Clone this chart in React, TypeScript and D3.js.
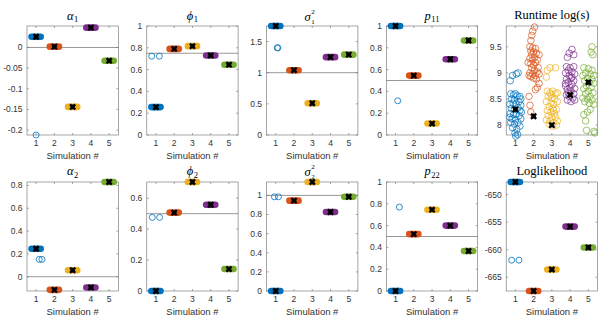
import React from "react";
import * as d3 from "d3";

const COLORS = ["#0072BD", "#D95319", "#EDB120", "#7E2F8E", "#77AC30"];
const simulations = [1, 2, 3, 4, 5];

// estimates per simulation (converged value)
const alpha1Est = [0.026, 0.002, -0.144, 0.048, -0.032];
const phi1Est = [0.256, 0.79, 0.815, 0.73, 0.645];
const sigma1Est = [1.75, 1.04, 0.51, 1.25, 1.29];
const p11Est = [1.0, 0.545, 0.105, 0.695, 0.867];
const runtimeMarker = [8.3, 8.17, 8.0, 8.58, 8.82];
const alpha2Est = [0.245, -0.115, 0.057, -0.094, 0.83];
const phi2Est = [0.0, 0.507, 0.705, 0.558, 0.142];
const sigma2Est = [0.0, 0.945, 1.14, 0.826, 0.986];
const p22Est = [0.0, 0.522, 0.746, 0.6, 0.367];
const loglikEst = [-647.7, -667.5, -663.6, -655.8, -659.6];

// true parameter values
const trueValues = { alpha1: 0, phi1: 0.75, sigma1: 1, p11: 0.5, alpha2: 0, phi2: 0.5, sigma2: 1, p22: 0.5 };

// local optima of simulation 1 (open circles): [sim x, value]
const alpha1Local = [[1.0, -0.212]];
const phi1Local = [[0.77, 0.723], [1.19, 0.723]];
const sigma1Local = [[1.08, 1.4], [1.12, 1.4]];
const p11Local = [[1.12, 0.314]];
const alpha2Local = [[1.17, 0.152], [1.32, 0.152]];
const phi2Local = [[0.8, 0.476], [1.2, 0.476]];
const sigma2Local = [[0.93, 0.985], [1.15, 0.985]];
const p22Local = [[1.21, 0.77]];
const loglikLocal = [[0.8, -661.9], [1.2, -661.9]];

// runtime log(s) per run: [jittered sim x, value]
const runtime1 = [[0.72,8.85],[0.85,8.95],[1.05,8.98],[1.15,9.0],[0.75,8.6],[0.9,8.58],[1.0,8.6],[1.1,8.56],[1.25,8.55],[1.3,8.5],[0.8,8.5],[0.95,8.48],[1.2,8.45],[0.7,8.4],[0.88,8.42],[1.05,8.4],[1.3,8.38],[0.78,8.32],[0.95,8.3],[1.15,8.33],[1.25,8.28],[0.72,8.22],[0.9,8.2],[1.05,8.22],[1.2,8.18],[0.82,8.12],[1.0,8.1],[1.3,8.12],[0.75,8.05],[0.95,8.02],[1.15,8.05],[0.85,7.95],[1.08,7.92],[1.25,7.98],[0.98,7.85],[1.12,7.82],[1.02,7.79],[0.7,8.15],[1.33,8.25]];
const runtime2 = [[2.05,9.88],[1.95,9.8],[1.9,9.72],[1.85,9.62],[1.8,9.5],[1.95,9.48],[2.1,9.47],[1.85,9.42],[2.0,9.4],[2.15,9.38],[1.9,9.35],[2.05,9.3],[1.8,9.28],[1.95,9.25],[2.2,9.25],[2.1,9.2],[1.85,9.18],[2.0,9.15],[2.25,9.1],[1.9,9.1],[2.05,9.05],[2.2,9.02],[1.8,9.0],[1.95,8.98],[2.1,8.95],[2.3,8.98],[1.85,8.93],[2.0,8.9],[2.15,8.88],[1.75,8.95],[2.3,8.8],[2.2,8.72],[2.1,8.68],[1.75,8.55],[1.8,8.38],[1.85,8.25],[2.3,9.35],[1.7,9.2]];
const runtime3 = [[2.75,9.05],[2.9,9.1],[3.2,9.1],[2.7,8.92],[2.75,8.65],[2.9,8.62],[3.05,8.65],[3.2,8.6],[3.3,8.62],[2.8,8.55],[3.0,8.52],[3.15,8.5],[2.7,8.45],[2.95,8.42],[3.1,8.4],[3.3,8.45],[2.85,8.35],[3.05,8.32],[3.25,8.3],[2.75,8.28],[2.95,8.25],[3.15,8.22],[2.8,8.18],[3.0,8.15],[3.2,8.15],[2.7,8.1],[2.9,8.08],[3.1,8.05],[3.3,8.08],[2.85,8.02],[3.05,7.98],[3.25,8.0],[2.95,8.58],[3.1,8.28]];
const runtime4 = [[4.1,9.45],[3.95,9.38],[4.2,9.35],[3.85,9.3],[3.8,9.12],[4.0,9.1],[4.2,9.12],[3.9,9.05],[4.1,9.02],[3.75,9.0],[4.25,8.98],[3.95,8.95],[4.05,8.9],[3.8,8.88],[4.2,8.85],[3.9,8.82],[4.1,8.78],[3.75,8.75],[4.0,8.72],[4.25,8.7],[3.85,8.68],[4.05,8.65],[4.2,8.6],[3.8,8.58],[3.95,8.55],[4.15,8.52],[3.85,8.48],[4.05,8.45],[4.25,8.48],[3.9,8.62],[4.1,8.92],[3.75,8.8]];
const runtime5 = [[5.2,9.5],[5.15,9.4],[5.25,9.35],[4.75,9.1],[5.0,9.08],[5.2,9.05],[4.85,9.0],[5.1,8.98],[5.3,8.95],[4.7,8.95],[4.95,8.9],[5.2,8.88],[4.8,8.85],[5.05,8.82],[5.3,8.8],[4.9,8.75],[5.15,8.72],[4.75,8.7],[5.0,8.65],[5.25,8.62],[4.85,8.6],[5.1,8.55],[4.7,8.52],[4.95,8.5],[5.2,8.48],[4.8,8.45],[5.05,8.42],[5.3,8.4],[4.75,8.2],[4.85,8.08],[4.9,7.9],[5.3,7.88],[5.35,7.85],[5.1,8.3],[4.95,8.25]];
const runtimeRuns = [runtime1, runtime2, runtime3, runtime4, runtime5];

// axis ticks
const alpha1Ticks = [-0.2, -0.15, -0.1, -0.05, 0];
const unitTicks = [0, 0.2, 0.4, 0.6, 0.8, 1];
const sigma1Ticks = [0, 0.5, 1, 1.5];
const runtimeTicks = [8, 8.5, 9, 9.5];
const alpha2Ticks = [0, 0.2, 0.4, 0.6, 0.8];
const phi2Ticks = [0, 0.2, 0.4, 0.6];
const loglikTicks = [-665, -660, -655, -650];

type Panel = {
  title: any;
  domain: [number, number];
  ticks: number[];
  est?: number[];
  truth?: number;
  local?: number[][];
  runs?: number[][][];
  marker?: number[];
};

const T = (main: string, sub: string, sup?: string) => ({ main, sub, sup });

const panels: Panel[] = [
  { title: T("α", "1"), domain: [-0.212, 0.052], ticks: alpha1Ticks, est: alpha1Est, truth: trueValues.alpha1, local: alpha1Local },
  { title: T("ϕ", "1"), domain: [0, 1], ticks: unitTicks, est: phi1Est, truth: trueValues.phi1, local: phi1Local },
  { title: T("σ", "1", "2"), domain: [0, 1.75], ticks: sigma1Ticks, est: sigma1Est, truth: trueValues.sigma1, local: sigma1Local },
  { title: T("p", "11"), domain: [0, 1], ticks: unitTicks, est: p11Est, truth: trueValues.p11, local: p11Local },
  { title: "Runtime log(s)", domain: [7.81, 9.9], ticks: runtimeTicks, runs: runtimeRuns, marker: runtimeMarker },
  { title: T("α", "2"), domain: [-0.125, 0.83], ticks: alpha2Ticks, est: alpha2Est, truth: trueValues.alpha2, local: alpha2Local },
  { title: T("ϕ", "2"), domain: [0, 0.705], ticks: phi2Ticks, est: phi2Est, truth: trueValues.phi2, local: phi2Local },
  { title: T("σ", "2", "2"), domain: [0, 1.14], ticks: unitTicks, est: sigma2Est, truth: trueValues.sigma2, local: sigma2Local },
  { title: T("p", "22"), domain: [0, 1], ticks: unitTicks, est: p22Est, truth: trueValues.p22, local: p22Local },
  { title: "Loglikelihood", domain: [-667.5, -647.7], ticks: loglikTicks, est: loglikEst, local: loglikLocal },
];

const W = 598, H = 326;
const PW = 91.3, PH = 109;
const lefts = [27, 146.8, 266.6, 386.4, 506.2];
const tops = [26, 182];
const AX = "#6b6b6b";
const TXT = "#333";
const SANS = "'Liberation Sans', Arial, sans-serif";
const SERIF = "'Liberation Serif', 'DejaVu Serif', serif";

function fmtTick(v: number) {
  const s = d3.format("~g")(+v.toFixed(4));
  return s.replace("−", "-");
}

function XMark({ cx, cy }: { cx: number; cy: number }) {
  const s = 2.6;
  return (
    <g>
      <path d={`M${cx - s},${cy - s}L${cx + s},${cy + s}M${cx - s},${cy + s}L${cx + s},${cy - s}`} stroke="#000" strokeWidth={2.3} />
      <path d={`M${cx - 2.4},${cy}L${cx + 2.4},${cy}M${cx},${cy - 2.4}L${cx},${cy + 2.4}`} stroke="#000" strokeWidth={1.2} />
    </g>
  );
}

function PanelView({ p, i }: { p: Panel; i: number }) {
  const col = i % 5, row = Math.floor(i / 5);
  const left = lefts[col], top = tops[row];
  const x = d3.scaleLinear().domain([0.5, 5.5]).range([left, left + PW]);
  const y = d3.scaleLinear().domain(p.domain).range([top + PH, top]);
  const bottom = top + PH, right = left + PW;
  const cxm = left + PW / 2;
  const tb = row === 0 ? 19.5 : 175;
  let title: any;
  if (typeof p.title === "string") {
    title = (
      <text x={cxm} y={tb - 0.5} textAnchor="middle" fontFamily={SERIF} fontSize={12.5} fill="#000">{p.title}</text>
    );
  } else if (p.title.sup) {
    const t = p.title;
    title = (
      <g fontFamily={SERIF} fill="#000">
        <text x={cxm - 1.5} y={tb + 1} textAnchor="end" fontSize={12.5} fontStyle="italic">{t.main}</text>
        <text x={cxm - 1} y={tb - 6} textAnchor="start" fontSize={7}>{t.sup}</text>
        <text x={cxm - 1} y={tb + 4} textAnchor="start" fontSize={7}>{t.sub}</text>
      </g>
    );
  } else {
    const t = p.title;
    title = (
      <text x={cxm} y={tb} textAnchor="middle" fontFamily={SERIF} fill="#000">
        <tspan fontSize={12.5} fontStyle="italic">{t.main}</tspan>
        <tspan fontSize={8.5} dy={2.5} dx={0.5}>{t.sub}</tspan>
      </text>
    );
  }
  return (
    <g>
      <rect x={left} y={top} width={PW} height={PH} fill="#fff" />
      {p.truth !== undefined && (
        <line x1={left} x2={right} y1={y(p.truth)} y2={y(p.truth)} stroke="#8c8c8c" strokeWidth={0.9} />
      )}
      <rect x={left} y={top} width={PW} height={PH} fill="none" stroke={AX} strokeWidth={0.6} />
      {simulations.map((s) => (
        <g key={"xt" + s}>
          <line x1={x(s)} x2={x(s)} y1={bottom} y2={bottom - 2} stroke={AX} strokeWidth={0.6} />
          <line x1={x(s)} x2={x(s)} y1={top} y2={top + 2} stroke={AX} strokeWidth={0.6} />
          <text x={x(s)} y={bottom + 11} textAnchor="middle" fontFamily={SANS} fontSize={8.5} fill={TXT}>{s}</text>
        </g>
      ))}
      {p.ticks.map((t) => (
        <g key={"yt" + t}>
          <line x1={left} x2={left + 2} y1={y(t)} y2={y(t)} stroke={AX} strokeWidth={0.6} />
          <line x1={right} x2={right - 2} y1={y(t)} y2={y(t)} stroke={AX} strokeWidth={0.6} />
          <text x={left - 4.5} y={y(t)} dy="0.35em" textAnchor="end" fontFamily={SANS} fontSize={8.5} fill={TXT}>{fmtTick(t)}</text>
        </g>
      ))}
      <text x={cxm} y={bottom + 24} textAnchor="middle" fontFamily={SANS} fontSize={9.5} fill={TXT}>Simulation #</text>
      {title}
      {p.local && p.local.map((d, k) => (
        <circle key={"lo" + k} cx={x(d[0])} cy={y(d[1])} r={3} fill="none" stroke={COLORS[0]} strokeWidth={0.8} />
      ))}
      {p.est && p.est.map((v, k) => (
        <g key={"e" + k}>
          <line x1={x(simulations[k] - 0.25)} x2={x(simulations[k] + 0.25)} y1={y(v)} y2={y(v)} stroke={COLORS[k]} strokeWidth={6.6} strokeLinecap="round" />
          <XMark cx={x(simulations[k])} cy={y(v)} />
        </g>
      ))}
      {p.runs && p.runs.map((runs, k) => (
        <g key={"r" + k}>
          {runs.map((d, j) => (
            <circle key={j} cx={x(d[0])} cy={y(d[1])} r={3.3} fill="none" stroke={COLORS[k]} strokeWidth={0.7} />
          ))}
        </g>
      ))}
      {p.marker && p.marker.map((v, k) => <XMark key={"m" + k} cx={x(simulations[k])} cy={y(v)} />)}
    </g>
  );
}

export default function App() {
  return (
    <svg width={W} height={H} style={{ position: "absolute", left: 0, top: 0, background: "#fff" }}>
      <rect width={W} height={H} fill="#fff" />
      {panels.map((p, i) => <PanelView key={i} p={p} i={i} />)}
    </svg>
  );
}
